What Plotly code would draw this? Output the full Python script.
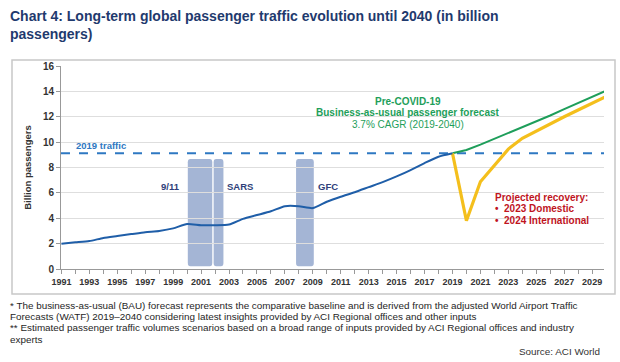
import plotly.graph_objects as go

# ---- data ----
hist_years = list(range(1991, 2020))
hist_values = [2.0, 2.1, 2.2, 2.45, 2.6, 2.75, 2.9, 3.0, 3.2, 3.55,
               3.45, 3.45, 3.5, 3.95, 4.25, 4.55, 4.95, 4.95, 4.8, 5.3,
               5.7, 6.05, 6.45, 6.85, 7.3, 7.8, 8.35, 8.85, 9.12]
bau_years = list(range(2019, 2031))
bau_values = [9.12, 9.38, 9.8, 10.25, 10.7, 11.2, 11.65, 12.1, 12.6, 13.1, 13.6, 14.05]
rec_years = list(range(2019, 2031))
rec_values = [9.12, 3.8, 6.88, 8.2, 9.45, 10.3, 10.88, 11.43, 12.0, 12.53, 13.06, 13.6]
traffic_2019 = 9.12
crisis_names = ["9/11", "SARS", "GFC"]
crisis_start = [2000.05, 2001.9, 2007.8]
crisis_end = [2001.8, 2002.6, 2009.07]
crisis_top = 8.67
crisis_label_x = [1998.8, 2003.8, 2010.1]
x_tick_vals = list(range(1991, 2030, 2))
y_tick_vals = list(range(0, 17, 2))

W, H = 620, 362
L, R, T, B = 61, 604, 66, 269


def px(x):
    return (x - L) / (R - L)


def py(y):
    return (B - y) / (B - T)


fig = go.Figure()

# crisis bars (rounded rectangles)
rx, ry = 0.18, 0.25
for s, e in zip(crisis_start, crisis_end):
    b, t = 0.22, crisis_top
    path = (f"M {s+rx},{b} L {e-rx},{b} Q {e},{b} {e},{b+ry} L {e},{t-ry} "
            f"Q {e},{t} {e-rx},{t} L {s+rx},{t} Q {s},{t} {s},{t-ry} "
            f"L {s},{b+ry} Q {s},{b} {s+rx},{b} Z")
    fig.add_shape(type="path", path=path, xref="x", yref="y",
                  fillcolor="rgba(148,168,206,0.85)", line=dict(width=0), layer="below")

# 2019 traffic dashed line
fig.add_trace(go.Scatter(x=[1990.97, 2029.85], y=[traffic_2019, traffic_2019], mode="lines",
                         line=dict(color="#2e78c2", width=2, dash="dash"),
                         hoverinfo="skip", showlegend=False))

fig.add_trace(go.Scatter(x=bau_years, y=bau_values, mode="lines",
                         line=dict(color="#1e9e5a", width=2), showlegend=False))
fig.add_trace(go.Scatter(x=rec_years, y=rec_values, mode="lines",
                         line=dict(color="#f4bf1c", width=3.2), showlegend=False))
fig.add_trace(go.Scatter(x=hist_years, y=hist_values, mode="lines",
                         line=dict(color="#1f5ea8", width=2, shape="spline", smoothing=0.6),
                         showlegend=False))

annotations = []
for name, lx in zip(crisis_names, crisis_label_x):
    annotations.append(dict(x=lx, y=6.5, xref="x", yref="y", text=name, showarrow=False,
                            font=dict(family="Arial", size=9.5, color="#2f3f7a", weight="bold")))
annotations.append(dict(x=1993.8, y=9.75, xref="x", yref="y", text="2019 traffic", showarrow=False,
                        font=dict(family="Arial", size=9.5, color="#2e78c2", weight="bold")))
annotations += [
    dict(x=2015.8, y=13.2, xref="x", yref="y", text="<b>Pre-COVID-19</b>", showarrow=False,
         font=dict(family="Arial", size=10, color="#1e9e5a")),
    dict(x=2015.8, y=12.3, xref="x", yref="y", text="<b>Business-as-usual passenger forecast</b>",
         showarrow=False, font=dict(family="Arial", size=10, color="#1e9e5a")),
    dict(x=2015.8, y=11.37, xref="x", yref="y", text="3.7% CAGR (2019-2040)", showarrow=False,
         font=dict(family="Arial", size=10, color="#1e9e5a")),
]
red_lines = ["Projected recovery:", "\u2022  2023 Domestic", "\u2022  2024 International"]
for i, line in enumerate(red_lines):
    annotations.append(dict(x=px(493), y=py(197 + i * 11.8), xref="paper", yref="paper",
                            xanchor="left", yanchor="middle", text=f"<b>{line}</b>", showarrow=False,
                            font=dict(family="Arial", size=10, color="#c0141e")))

annotations.append(dict(x=px(8), y=py(24.5), xref="paper", yref="paper", xanchor="left",
                        yanchor="middle", align="left", showarrow=False,
                        text="<b>Chart 4: Long-term global passenger traffic evolution until 2040 (in billion<br>passengers)</b>",
                        font=dict(family="Arial", size=14, color="#1f3a6e")))

foot = [
    "* The business-as-usual (BAU) forecast represents the comparative baseline and is derived from the adjusted World Airport Traffic",
    "Forecasts (WATF) 2019\u20132040 considering latest insights provided by ACI Regional offices and other inputs",
    "** Estimated passenger traffic volumes scenarios based on a broad range of inputs provided by ACI Regional offices and industry",
    "experts",
]
for i, t in enumerate(foot):
    annotations.append(dict(x=px(8), y=py(305 + i * 11.4), xref="paper", yref="paper",
                            xanchor="left", yanchor="middle", text=t, showarrow=False,
                            font=dict(family="Arial", size=9.9, color="#1e1e1e")))
annotations.append(dict(x=px(602), y=py(351.5), xref="paper", yref="paper", xanchor="right",
                        yanchor="middle", text="Source: ACI World", showarrow=False,
                        font=dict(family="Arial", size=9.9, color="#333333")))

# chart frame
fig.add_shape(type="rect", xref="paper", yref="paper", x0=px(12), x1=px(615), y0=py(294), y1=py(60),
              line=dict(color="#c8c8c8", width=1.5), fillcolor="rgba(0,0,0,0)", layer="below")

fig.update_layout(
    width=W, height=H, margin=dict(l=L, r=W - R, t=T, b=H - B),
    paper_bgcolor="white", plot_bgcolor="white",
    annotations=annotations, showlegend=False,
    xaxis=dict(range=[1990.97, 2029.85], tickvals=x_tick_vals, ticktext=[str(v) for v in x_tick_vals],
               ticks="outside", ticklen=4, tickcolor="#999999", showgrid=False, showline=True,
               linecolor="#999999", linewidth=1, zeroline=False,
               tickfont=dict(family="Arial", size=9, color="#333333", weight="bold"),
               minor=dict(dtick=1, ticks="outside", ticklen=4, tickcolor="#999999")),
    yaxis=dict(range=[0, 16], tickvals=y_tick_vals, ticks="outside", ticklen=4, tickcolor="#999999",
               showgrid=True, gridcolor="#dedede", gridwidth=1, showline=True, linecolor="#999999",
               zeroline=False, tickfont=dict(family="Arial", size=10, color="#333333", weight="bold"),
               title=dict(text="Billion passengers", standoff=9,
                          font=dict(family="Arial", size=9.5, color="#333333", weight="bold"))),
)

fig.write_html("out.html", config={"displayModeBar": False},
               post_script="document.body.style.margin='0';")
